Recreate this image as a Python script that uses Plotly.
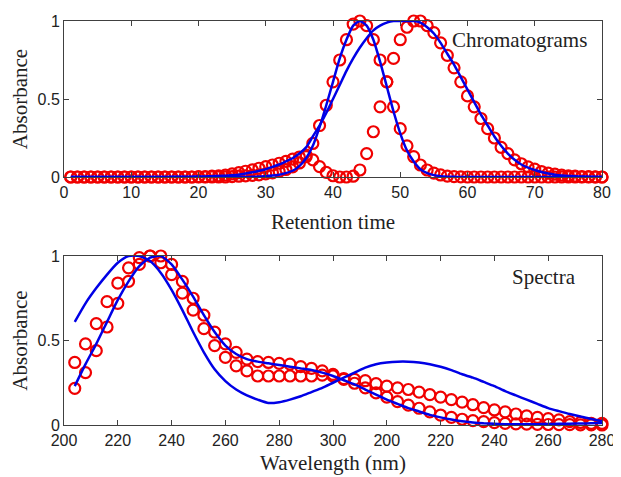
import plotly.graph_objects as go

# ---------------- Chromatograms (top) ----------------
ret_time = list(range(1, 81))

chrom_est_1 = [0]*24 + [0.003, 0.005, 0.007, 0.01, 0.014, 0.02, 0.027, 0.036, 0.048, 0.065,
               0.09, 0.14, 0.215, 0.33, 0.46, 0.61, 0.75, 0.88, 0.98, 1.0,
               0.97, 0.88, 0.75, 0.61, 0.45, 0.31, 0.2, 0.13, 0.077, 0.045,
               0.025, 0.013, 0.006, 0.003, 0.001] + [0]*21

chrom_est_2 = [0]*19 + [0.002, 0.003, 0.005, 0.008, 0.012, 0.02, 0.028, 0.037, 0.046, 0.056,
               0.066, 0.077, 0.088, 0.1, 0.115, 0.128, 0.13, 0.11, 0.066, 0.03,
               0.008, 0.0, 0.0, 0.005, 0.045, 0.15, 0.29, 0.45, 0.61, 0.76,
               0.88, 0.96, 1.0, 1.0, 0.97, 0.925, 0.86, 0.78, 0.70, 0.61,
               0.52, 0.45, 0.375, 0.31, 0.25, 0.19, 0.15, 0.11, 0.085, 0.065,
               0.05, 0.035, 0.025, 0.018, 0.012, 0.008, 0.005, 0.003, 0.002, 0.001,
               0.0]

chrom_true_1 = [0]*27 + [0.001, 0.003, 0.005, 0.009, 0.015, 0.025, 0.04, 0.07, 0.12, 0.2,
                0.32, 0.46, 0.61, 0.76, 0.88, 0.97, 1.0, 0.97, 0.88, 0.74,
                0.58, 0.42, 0.28, 0.17, 0.1, 0.05, 0.025, 0.012, 0.005, 0.002,
                0.001] + [0]*22

chrom_true_2 = [0]*15 + [0.001, 0.001, 0.002, 0.002, 0.003, 0.004, 0.005, 0.007, 0.008, 0.011,
                0.015, 0.022, 0.03, 0.04, 0.05, 0.065, 0.08, 0.1, 0.12, 0.15,
                0.19, 0.26, 0.33, 0.41, 0.5, 0.59, 0.68, 0.76, 0.83, 0.89,
                0.94, 0.97, 0.99, 1.0, 1.0, 1.0, 1.0, 0.99, 0.96, 0.92,
                0.86, 0.79, 0.72, 0.64, 0.56, 0.48, 0.40, 0.33, 0.26, 0.2,
                0.15, 0.11, 0.08, 0.06, 0.045, 0.032, 0.022, 0.015, 0.01, 0.007,
                0.005, 0.003, 0.002, 0.001, 0.0]

chrom_ticks = [0, 10, 20, 30, 40, 50, 60, 70, 80]

# ---------------- Spectra (bottom) ----------------
spec_pos = list(range(204, 401, 4))
spec_tick_vals = list(range(200, 401, 20))
spec_tick_text = ['200', '220', '240', '260', '280', '300', '200', '220', '240', '260', '280']

spec_est_1 = [0.217, 0.31, 0.44, 0.58, 0.72, 0.85, 0.95, 1.0, 1.0, 0.95,
              0.85, 0.75, 0.65, 0.55, 0.48, 0.43, 0.39, 0.375, 0.37, 0.365,
              0.36, 0.345, 0.335, 0.32, 0.30,
              0.27, 0.247, 0.22, 0.19, 0.165, 0.138, 0.118, 0.099, 0.078, 0.059,
              0.045, 0.034, 0.026, 0.02, 0.014, 0.01, 0.007, 0.005, 0.004, 0.003,
              0.002, 0.002, 0.001, 0.001, 0.0]

spec_est_2 = [0.37, 0.48, 0.60, 0.73, 0.84, 0.93, 0.99, 1.0, 0.96, 0.89,
              0.78, 0.68, 0.57, 0.47, 0.40, 0.35, 0.32, 0.29, 0.29, 0.29,
              0.29, 0.29, 0.29, 0.295, 0.29,
              0.275, 0.27, 0.262, 0.245, 0.23, 0.22, 0.21, 0.195, 0.18, 0.165,
              0.15, 0.135, 0.12, 0.103, 0.089, 0.078, 0.065, 0.054, 0.045, 0.038,
              0.03, 0.02, 0.015, 0.01, 0.01]

spec_true_1 = [0.61, 0.72, 0.81, 0.89, 0.96, 1.0, 1.0, 0.97, 0.90, 0.80,
               0.68, 0.55, 0.43, 0.33, 0.26, 0.21, 0.175, 0.15, 0.13, 0.135,
               0.15, 0.17, 0.195, 0.22, 0.25,
               0.28, 0.31, 0.34, 0.36, 0.37, 0.375, 0.375, 0.37, 0.36, 0.345,
               0.325, 0.30, 0.28, 0.255, 0.23, 0.2, 0.175, 0.15, 0.125, 0.1,
               0.082, 0.065, 0.05, 0.035, 0.022]

spec_true_2 = [0.23, 0.36, 0.48, 0.61, 0.74, 0.85, 0.94, 0.99, 1.0, 0.95,
               0.86, 0.76, 0.65, 0.55, 0.47, 0.42, 0.39, 0.375, 0.365, 0.355,
               0.345, 0.335, 0.325, 0.31, 0.29,
               0.265, 0.24, 0.21, 0.18, 0.15, 0.125, 0.1, 0.08, 0.06, 0.045,
               0.032, 0.022, 0.015, 0.01, 0.007, 0.005, 0.005, 0.005, 0.005, 0.006,
               0.007, 0.008, 0.009, 0.01, 0.012]

RED = '#f00000'
BLUE = '#0000e6'
SERIF = 'Liberation Serif, Times New Roman, serif'
SANS = 'Liberation Sans, Arial, sans-serif'
TXT = '#222222'

fig = go.Figure()

def circles(x, y, xa, ya):
    return go.Scatter(x=x, y=y, mode='markers', xaxis=xa, yaxis=ya, cliponaxis=False,
                      marker=dict(symbol='circle-open', size=11, color=RED,
                                  line=dict(color=RED, width=2.2)),
                      showlegend=False, hoverinfo='x+y')

def line(x, y, xa, ya):
    return go.Scatter(x=x, y=y, mode='lines', xaxis=xa, yaxis=ya, cliponaxis=False,
                      line=dict(color=BLUE, width=2.5, shape='spline', smoothing=0.6),
                      showlegend=False, hoverinfo='x+y')

fig.add_trace(circles(ret_time, chrom_est_1, 'x', 'y'))
fig.add_trace(circles(ret_time, chrom_est_2, 'x', 'y'))
fig.add_trace(line(ret_time, chrom_true_1, 'x', 'y'))
fig.add_trace(line(ret_time, chrom_true_2, 'x', 'y'))

fig.add_trace(circles(spec_pos, spec_est_1, 'x2', 'y2'))
fig.add_trace(circles(spec_pos, spec_est_2, 'x2', 'y2'))
fig.add_trace(line(spec_pos, spec_true_1, 'x2', 'y2'))
fig.add_trace(line(spec_pos, spec_true_2, 'x2', 'y2'))

axis_common = dict(showline=True, linecolor='#404040', linewidth=1, mirror='allticks',
                   ticks='inside', ticklen=5, tickcolor='#404040', tickwidth=1,
                   showgrid=False, zeroline=False, automargin=False,
                   tickfont=dict(family=SANS, size=16, color=TXT))

# the page body adds an 8px offset, so the figure is 8px smaller
W, H = 613, 469
L, R, T, B = 56, 19, 13, 52
ph = H - T - B

title_font = dict(family=SERIF, size=21, color=TXT)

fig.update_layout(
    width=W, height=H,
    margin=dict(l=L, r=R, t=T, b=B),
    paper_bgcolor='white', plot_bgcolor='white',
    xaxis=dict(domain=[0, 1], range=[0, 80], tickvals=chrom_ticks, anchor='y',
               ticklabelstandoff=1,
               title=dict(text='Retention time', font=title_font, standoff=14),
               **axis_common),
    yaxis=dict(domain=[1 - 156 / ph, 1], range=[0, 1], tickvals=[0, 0.5, 1],
               ticktext=['0', '0.5', '1'], anchor='x',
               title=dict(text='Absorbance', font=title_font, standoff=6),
               **axis_common),
    xaxis2=dict(domain=[0, 1], range=[200, 400], tickvals=spec_tick_vals,
                ticktext=spec_tick_text, anchor='y2', ticklabelstandoff=1,
                title=dict(text='Wavelength (nm)', font=title_font, standoff=7),
                **axis_common),
    yaxis2=dict(domain=[0, 1 - 235 / ph], range=[0, 1], tickvals=[0, 0.5, 1],
                ticktext=['0', '0.5', '1'], anchor='x2',
                title=dict(text='Absorbance', font=title_font, standoff=6),
                **axis_common),
    annotations=[
        dict(text='Chromatograms', xref='x', yref='y', x=78.1, y=0.88, xanchor='right',
             yanchor='middle', showarrow=False, font=title_font),
        dict(text='Spectra', xref='x2', yref='y2', x=391.1, y=0.876, xanchor='right',
             yanchor='middle', showarrow=False, font=title_font),
    ],
)

fig.write_html('out.html')
